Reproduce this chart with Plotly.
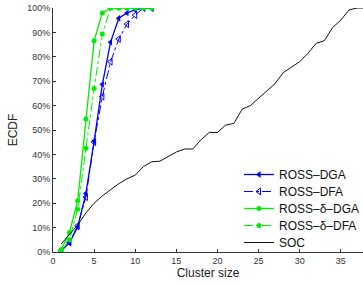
import plotly.graph_objects as go

# ---- data ----
cluster_sizes = [1, 2, 3, 4, 5, 6, 7, 8, 9, 10, 11, 12]
ross_dga = [0.5, 3.7, 10.2, 24.0, 45.5, 68.7, 86.0, 95.8, 98.0, 99.2, 100, 100]
ross_dfa = [0.5, 4.0, 10.8, 22.5, 45.0, 63.7, 78.0, 87.3, 93.4, 97.1, 100, 100]
ross_d_dga = [1.0, 8.0, 21.0, 54.5, 86.6, 98.0, 100, 100, 100, 100, 100, 100]
ross_d_dfa = [0.5, 5.0, 17.5, 42.5, 67.0, 89.3, 100, 100, 100, 100, 100, 100]

soc_x = list(range(1, 39))
soc_y = [3.3, 7.0, 11.0, 16.0, 20.0, 23.0, 25.5, 28.0, 30.0, 31.5,
         35.0, 37.0, 37.2, 39.0, 41.0, 42.2, 42.2, 46.0, 49.0, 49.0,
         52.0, 52.7, 58.5, 60.0, 63.0, 66.0, 69.0, 73.5, 75.7, 78.0,
         81.4, 85.5, 86.6, 92.0, 95.0, 99.2, 100, 100]

x_ticks = [0, 5, 10, 15, 20, 25, 30, 35]
y_ticks = [0, 10, 20, 30, 40, 50, 60, 70, 80, 90, 100]
y_tick_labels = [f"{v}%" for v in y_ticks]

BLUE = "#0000ff"
GREEN = "#00ee00"

fig = go.Figure()
fig.add_trace(go.Scatter(x=cluster_sizes, y=ross_dga, name="ROSS\u2013DGA", mode="lines+markers",
                         line=dict(color=BLUE, width=1.3), legend="legend",
                         marker=dict(symbol="triangle-left", size=6, color=BLUE)))
fig.add_trace(go.Scatter(x=cluster_sizes, y=ross_dfa, name="ROSS\u2013DFA", mode="lines+markers",
                         line=dict(color=BLUE, width=1, dash="dashdot"), legend="legend2",
                         marker=dict(symbol="triangle-left-open", size=6, color=BLUE)))
fig.add_trace(go.Scatter(x=cluster_sizes, y=ross_d_dga, name="ROSS\u2013\u03b4\u2013DGA", mode="lines+markers",
                         line=dict(color=GREEN, width=1.3), legend="legend3",
                         marker=dict(symbol="circle", size=5, color=GREEN)))
fig.add_trace(go.Scatter(x=cluster_sizes, y=ross_d_dfa, name="ROSS\u2013\u03b4\u2013DFA", mode="lines+markers",
                         line=dict(color=GREEN, width=1, dash="dashdot"), legend="legend4",
                         marker=dict(symbol="circle", size=5, color=GREEN)))
fig.add_trace(go.Scatter(x=soc_x, y=soc_y, name="SOC", mode="lines",
                         line=dict(color="#111111", width=1), legend="legend5"))

PLOT_TOP, PLOT_BOTTOM = 8, 252
row_centers = [174.5, 191.5, 208.5, 225.5, 242.5]


def legend_at(py):
    return dict(x=0.6, y=(PLOT_BOTTOM - py) / (PLOT_BOTTOM - PLOT_TOP),
                xref="paper", yref="paper",
                xanchor="left", yanchor="middle", bgcolor="rgba(0,0,0,0)",
                font=dict(size=12, color="#111"), itemwidth=30)


fig.update_layout(
    width=363, height=285,
    margin=dict(l=53, r=0, t=8, b=33, autoexpand=False),
    paper_bgcolor="white", plot_bgcolor="white",
    font=dict(family="Liberation Sans, Arial, sans-serif", size=12, color="#222"),
    showlegend=True,
    legend=legend_at(row_centers[0]),
    legend2=legend_at(row_centers[1]),
    legend3=legend_at(row_centers[2]),
    legend4=legend_at(row_centers[3]),
    legend5=legend_at(row_centers[4]),
    xaxis=dict(range=[0, 37.7], tickvals=x_ticks, ticks="inside", ticklen=3,
               automargin=False,
               showgrid=False, zeroline=False, showline=True, linecolor="#333",
               linewidth=1, tickcolor="#333", tickfont=dict(size=9, color="#333"),
               title=dict(text="Cluster size", font=dict(size=12), standoff=2)),
    yaxis=dict(range=[0, 100], tickvals=y_ticks, ticktext=y_tick_labels,
               automargin=False,
               ticks="inside", ticklen=3, showgrid=False, zeroline=False,
               showline=True, linecolor="#333", linewidth=1, tickcolor="#333",
               tickfont=dict(size=9, color="#333"),
               title=dict(text="ECDF", font=dict(size=12), standoff=6)),
)

fig.write_html("out.html", config={"displayModeBar": False},
               post_script="document.body.style.margin='0px';")
